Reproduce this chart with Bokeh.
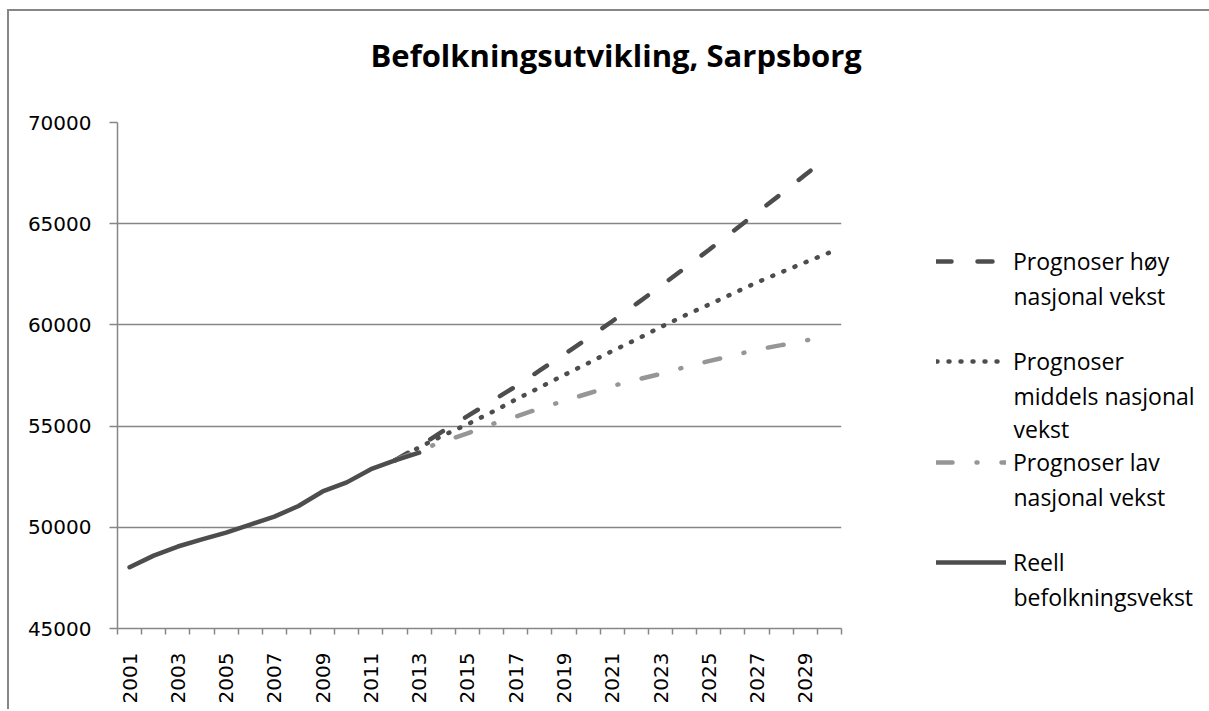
import math
from bokeh.plotting import figure
from bokeh.layouts import row
from bokeh.models import (Range1d, FixedTicker, BasicTickFormatter, Legend, LegendItem,
                          Label, Title)
from bokeh.embed import file_html
from bokeh.resources import INLINE

# ---------------- data ----------------
years = list(range(2001, 2031))
year_labels = [str(y) for y in years]

real_years = list(range(2001, 2014))
real = [48030, 48600, 49050, 49400, 49740, 50130, 50530, 51050, 51770, 52220, 52870, 53310, 53690]

proj_years = list(range(2012, 2031))
high = [53310, 54000, 54760, 55490, 56230, 56960, 57750, 58540, 59340, 60180,
        61040, 61910, 62800, 63700, 64620, 65550, 66470, 67420, 68350]
medium = [53310, 53950, 54540, 55090, 55680, 56310, 56910, 57520, 58110, 58710,
          59280, 59890, 60460, 61000, 61550, 62100, 62600, 63090, 63570]
low = [53310, 53800, 54240, 54640, 55090, 55470, 55870, 56250, 56610, 56980,
       57290, 57580, 57910, 58210, 58490, 58780, 59000, 59230, 59450]

y_ticks = [45000, 50000, 55000, 60000, 65000, 70000]
title_text = "Befolkningsutvikling, Sarpsborg"
legend_texts = [
    ["Prognoser høy", "nasjonal vekst"],
    ["Prognoser", "middels nasjonal", "vekst"],
    ["Prognoser lav", "nasjonal vekst"],
    ["Reell", "befolkningsvekst"],
]

# ---------------- styling ----------------
GRID = "#868686"
DARK = "#4d4d4d"
LIGHT = "#969696"
FONT = "Open Sans"
TICKFONT = "DejaVu Sans"

H = 698
ML, MT = 108, 111
FRAME_W, FRAME_H = 724, 506
MR = 40
MB = H - MT - FRAME_H
W = ML + FRAME_W + MR
LW = 1200 - W

STYLES = {
    "high": dict(line_color=DARK, line_width=4.5, line_dash="15 26", line_cap="round"),
    "medium": dict(line_color=DARK, line_width=4.5, line_dash="1 11", line_cap="round"),
    "low": dict(line_color=LIGHT, line_width=4.5, line_dash="16 24 1 24", line_cap="round"),
    "real": dict(line_color=DARK, line_width=4.5, line_cap="round", line_join="round"),
}


def xpos(yrs):
    return [years.index(y) + 0.5 for y in yrs]


series = {
    "high": (xpos(proj_years), high),
    "medium": (xpos(proj_years), medium),
    "low": (xpos(proj_years), low),
    "real": (xpos(real_years), real),
}

p = figure(width=W, height=H, output_backend="svg", toolbar_location=None,
           x_range=Range1d(0, len(years)), y_range=Range1d(y_ticks[0], y_ticks[-1]),
           min_border_left=ML, min_border_right=MR, min_border_top=MT, min_border_bottom=MB)
p.outline_line_color = None
p.background_fill_color = "white"
p.border_fill_color = "white"
p.title = None
# spacer (closest to the frame), then the real title above it
p.add_layout(Title(text=" ", text_font_size="1px", standoff=44), "above")
p.add_layout(Title(text=title_text, align="left", offset=253, standoff=0,
                   text_font=FONT, text_font_style="bold", text_font_size="31px",
                   text_color="black"), "above")

# x axis: category boundaries as minor ticks, odd-year labels at centres
label_idx = list(range(0, len(years), 2))
p.xaxis.ticker = FixedTicker(ticks=[i + 0.5 for i in label_idx],
                             minor_ticks=list(range(0, len(years) + 1)))
p.xaxis.major_label_overrides = {i + 0.5: year_labels[i] for i in label_idx}
p.xaxis.major_label_orientation = math.pi / 2
p.xaxis.major_tick_out = 0
p.xaxis.major_tick_in = 0
p.xaxis.minor_tick_out = 6
p.xaxis.minor_tick_in = 0
p.xaxis.minor_tick_line_color = GRID
p.xaxis.minor_tick_line_width = 1.5
p.xaxis.axis_line_color = GRID
p.xaxis.axis_line_width = 1.5
p.xaxis.major_label_standoff = 18
p.xaxis.major_label_text_font = TICKFONT
p.xaxis.major_label_text_font_size = "20px"
p.xaxis.major_label_text_color = "black"

p.yaxis.ticker = FixedTicker(ticks=y_ticks)
p.yaxis.formatter = BasicTickFormatter(use_scientific=False)
p.yaxis.major_tick_out = 8
p.yaxis.major_tick_in = 0
p.yaxis.minor_tick_out = 0
p.yaxis.minor_tick_in = 0
p.yaxis.major_tick_line_color = GRID
p.yaxis.major_tick_line_width = 1.5
p.yaxis.axis_line_color = GRID
p.yaxis.axis_line_width = 1.5
p.yaxis.major_label_standoff = 18
p.yaxis.major_label_text_font = TICKFONT
p.yaxis.major_label_text_font_size = "20px"
p.yaxis.major_label_text_color = "black"

p.xgrid.visible = False
p.ygrid.grid_line_color = GRID
p.ygrid.grid_line_width = 1.5

# ---------------- series ----------------
for key in ["high", "medium", "low", "real"]:
    xs, ys = series[key]
    p.line(xs, ys, **STYLES[key])

# ---------------- legend panel ----------------
# Its frame is aligned with the chart frame by the row layout; the y range is set
# so that a data unit equals one canvas pixel measured from the canvas top.
lf = figure(width=LW, height=H, output_backend="svg", toolbar_location=None,
            x_range=Range1d(0, LW), y_range=Range1d(MT + FRAME_H, MT),
            min_border_left=0, min_border_right=0,
            min_border_top=MT, min_border_bottom=MB)
lf.axis.visible = False
lf.grid.visible = False
lf.outline_line_color = None
lf.background_fill_color = "white"
lf.border_fill_color = "white"
lf.title = None

leg_x = 55          # glyph start, from left edge of legend panel
text_x = 132        # text start
centres = [251, 351, 452, 552]   # item centre, canvas pixels from top
line_gap = 33
frame_bottom = MT + FRAME_H
for key, texts, cy in zip(["high", "medium", "low", "real"], legend_texts, centres):
    xs, ys = series[key]
    # same data: far outside this panel's ranges, so only the legend glyph shows
    r = lf.line(xs, ys, **STYLES[key])
    leg = Legend(items=[LegendItem(label=texts[0], renderers=[r])],
                 location=(leg_x, frame_bottom - cy - 15),
                 padding=0, margin=0, border_line_color=None,
                 background_fill_alpha=0, glyph_width=70, glyph_height=30,
                 label_height=30, label_standoff=7, spacing=0,
                 label_text_font=FONT, label_text_font_size="23px",
                 label_text_color="black")
    lf.add_layout(leg)
    for k, t in enumerate(texts[1:], start=1):
        lf.add_layout(Label(x=text_x, y=cy + k * line_gap, text=t,
                            text_baseline="middle", text_align="left",
                            text_font=FONT, text_font_size="23px", text_color="black"))

layout = row(p, lf, spacing=0,
             styles={"border-top": "2px solid #868686", "border-left": "2px solid #868686",
                     "margin-left": "7px", "margin-top": "9px"})

open("out.html", "w").write(file_html(layout, INLINE))
